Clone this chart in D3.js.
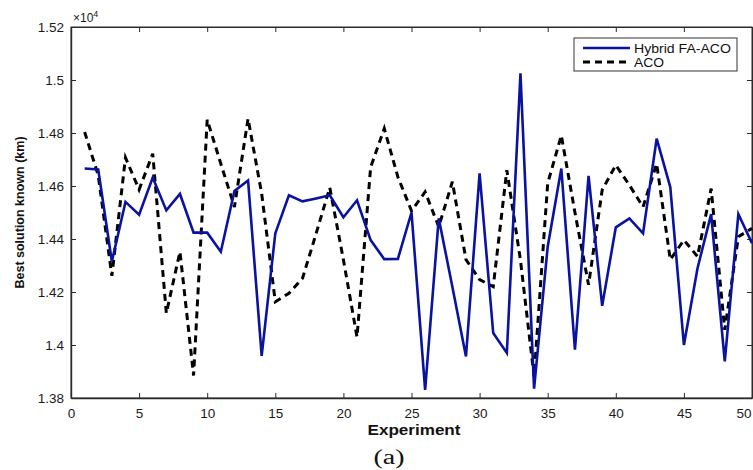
<!DOCTYPE html>
<html>
<head>
<meta charset="utf-8">
<script src="https://cdn.jsdelivr.net/npm/d3@7"></script>
<style>
  body { margin: 0; background: #fff; }
  svg { display: block; font-family: Arial, "Liberation Sans", sans-serif; }
</style>
</head>
<body>
<div id="chart"></div>
<script>
// experiment numbers 1..50
const experiments = d3.range(1, 51);

// best solution known (km)
const hybridFaAco = [
  14666, 14662, 14315, 14540, 14492, 14632, 14508, 14570, 14424, 14424,
  14352, 14581, 14621, 13959, 14421, 14565, 14542, 14553, 14565, 14482,
  14546, 14396, 14324, 14325, 14500, 13831, 14478, 14220, 13957, 14648,
  14045, 13970, 15025, 13835, 14371, 14666, 13982, 14638, 14148, 14444,
  14478, 14421, 14779, 14596, 14000, 14290, 14494, 13938, 14494, 14384
];

const aco = [
  14804, 14640, 14261, 14707, 14586, 14722, 14120, 14352, 13885, 14850,
  14684, 14521, 14854, 14571, 14163, 14195, 14252, 14421, 14594, 14322,
  14030, 14671, 14817, 14634, 14506, 14578, 14446, 14616, 14322, 14247,
  14220, 14660, 14320, 13881, 14610, 14791, 14500, 14227, 14585, 14679,
  14603, 14521, 14684, 14322, 14396, 14334, 14590, 14057, 14409, 14440
];

const xTicks = [0, 5, 10, 15, 20, 25, 30, 35, 40, 45, 50];
const yTicks = [13800, 14000, 14200, 14400, 14600, 14800, 15000, 15200];
const yTickLabels = ['1.38', '1.4', '1.42', '1.44', '1.46', '1.48', '1.5', '1.52'];
const seriesNames = ['Hybrid FA-ACO', 'ACO'];

const config = {
  containerWidth: 753,
  containerHeight: 470,
  margin: { top: 27, right: 1, bottom: 72, left: 71 }
};
config.width = config.containerWidth - config.margin.left - config.margin.right;
config.height = config.containerHeight - config.margin.top - config.margin.bottom;

const svg = d3.select('#chart').append('svg')
  .attr('width', config.containerWidth)
  .attr('height', config.containerHeight);

const chart = svg.append('g')
  .attr('transform', `translate(${config.margin.left},${config.margin.top})`);

const xScale = d3.scaleLinear().domain([0, 50]).range([0, config.width]);
const yScale = d3.scaleLinear().domain([13800, 15200]).range([config.height, 0]);

// plot frame
chart.append('rect')
  .attr('width', config.width)
  .attr('height', config.height)
  .attr('fill', 'none')
  .attr('stroke', '#2b2b2b')
  .attr('stroke-width', 1);

// axes with inward ticks, plus mirrored ticks on top/right
const fmt = d => yTickLabels[yTicks.indexOf(d)];

const xAxis = d3.axisBottom(xScale).tickValues(xTicks).tickSizeInner(-5).tickSizeOuter(0).tickPadding(10);
const xAxisTop = d3.axisTop(xScale).tickValues(xTicks).tickSizeInner(-5).tickSizeOuter(0).tickFormat('');
const yAxis = d3.axisLeft(yScale).tickValues(yTicks).tickFormat(fmt).tickSizeInner(-5).tickSizeOuter(0).tickPadding(7);
const yAxisRight = d3.axisRight(yScale).tickValues(yTicks).tickSizeInner(-5).tickSizeOuter(0).tickFormat('');

const styleAxis = g => {
  g.select('.domain').attr('stroke', '#2b2b2b').attr('stroke-width', 1.4);
  g.selectAll('.tick line').attr('stroke', '#2b2b2b');
  g.selectAll('.tick text')
    .attr('fill', '#1a1a1a')
    .style('font-size', '13.5px')
    .style('font-family', 'Arial, "Liberation Sans", sans-serif');
};

const xAxisG = chart.append('g').attr('transform', `translate(0,${config.height})`).call(xAxis).call(styleAxis);
// the last label sits on the page edge: nudge it in so it stays readable
xAxisG.selectAll('.tick text').filter(d => d === 50).attr('text-anchor', 'end').attr('dx', -1);

chart.append('g').call(xAxisTop).call(styleAxis).select('.domain').attr('stroke-width', 1);
chart.append('g').call(yAxis).call(styleAxis);
chart.append('g').attr('transform', `translate(${config.width},0)`).call(yAxisRight).call(styleAxis).select('.domain').attr('stroke-width', 1);

// x10^4 multiplier
const mult = chart.append('text')
  .attr('x', 2)
  .attr('y', -5)
  .attr('fill', '#1a1a1a')
  .style('font-size', '12px');
mult.append('tspan').text('\u00d710');
mult.append('tspan').attr('dy', -5).style('font-size', '9px').text('4');

// lines
const line = d3.line()
  .x((d, i) => xScale(experiments[i]))
  .y(d => yScale(d));

chart.append('path')
  .datum(aco)
  .attr('fill', 'none')
  .attr('stroke', '#000')
  .attr('stroke-width', 3)
  .attr('stroke-dasharray', '7,5')
  .attr('d', line);

chart.append('path')
  .datum(hybridFaAco)
  .attr('fill', 'none')
  .attr('stroke', '#0a12a0')
  .attr('stroke-width', 2.6)
  .attr('stroke-linejoin', 'miter')
  .attr('d', line);

// axis labels
svg.append('text')
  .attr('transform', `translate(24,${config.margin.top + config.height / 2}) rotate(-90)`)
  .attr('text-anchor', 'middle')
  .attr('fill', '#111')
  .style('font-size', '12.5px')
  .style('font-weight', 'bold')
  .text('Best solution known (km)');

svg.append('text')
  .attr('x', 414)
  .attr('y', 435)
  .attr('text-anchor', 'middle')
  .attr('fill', '#111')
  .attr('textLength', 93)
  .attr('lengthAdjust', 'spacingAndGlyphs')
  .style('font-size', '15px')
  .style('font-weight', 'bold')
  .text('Experiment');

svg.append('text')
  .attr('x', 389)
  .attr('y', 464)
  .attr('text-anchor', 'middle')
  .attr('fill', '#111')
  .attr('textLength', 31)
  .attr('lengthAdjust', 'spacingAndGlyphs')
  .style('font-size', '20px')
  .style('font-family', '"Liberation Serif", "Times New Roman", serif')
  .text('(a)');

// legend
const legend = svg.append('g').attr('transform', 'translate(574,38)');
legend.append('rect')
  .attr('width', 163)
  .attr('height', 33)
  .attr('fill', '#fff')
  .attr('stroke', '#333')
  .attr('stroke-width', 1);

const legendItems = [
  { name: seriesNames[0], color: '#0a12a0', dash: null, width: 2.6, len: 97 },
  { name: seriesNames[1], color: '#000', dash: '7,5', width: 3, len: 30 }
];

legendItems.forEach((d, i) => {
  const y = 10 + i * 14;
  legend.append('line')
    .attr('x1', 9).attr('x2', 56)
    .attr('y1', y).attr('y2', y)
    .attr('stroke', d.color)
    .attr('stroke-width', d.width)
    .attr('stroke-dasharray', d.dash);
  legend.append('text')
    .attr('x', 60)
    .attr('y', y + 4.5)
    .attr('fill', '#111')
    .attr('textLength', d.len)
    .attr('lengthAdjust', 'spacingAndGlyphs')
    .style('font-size', '12.5px')
    .text(d.name);
});
</script>
</body>
</html>
